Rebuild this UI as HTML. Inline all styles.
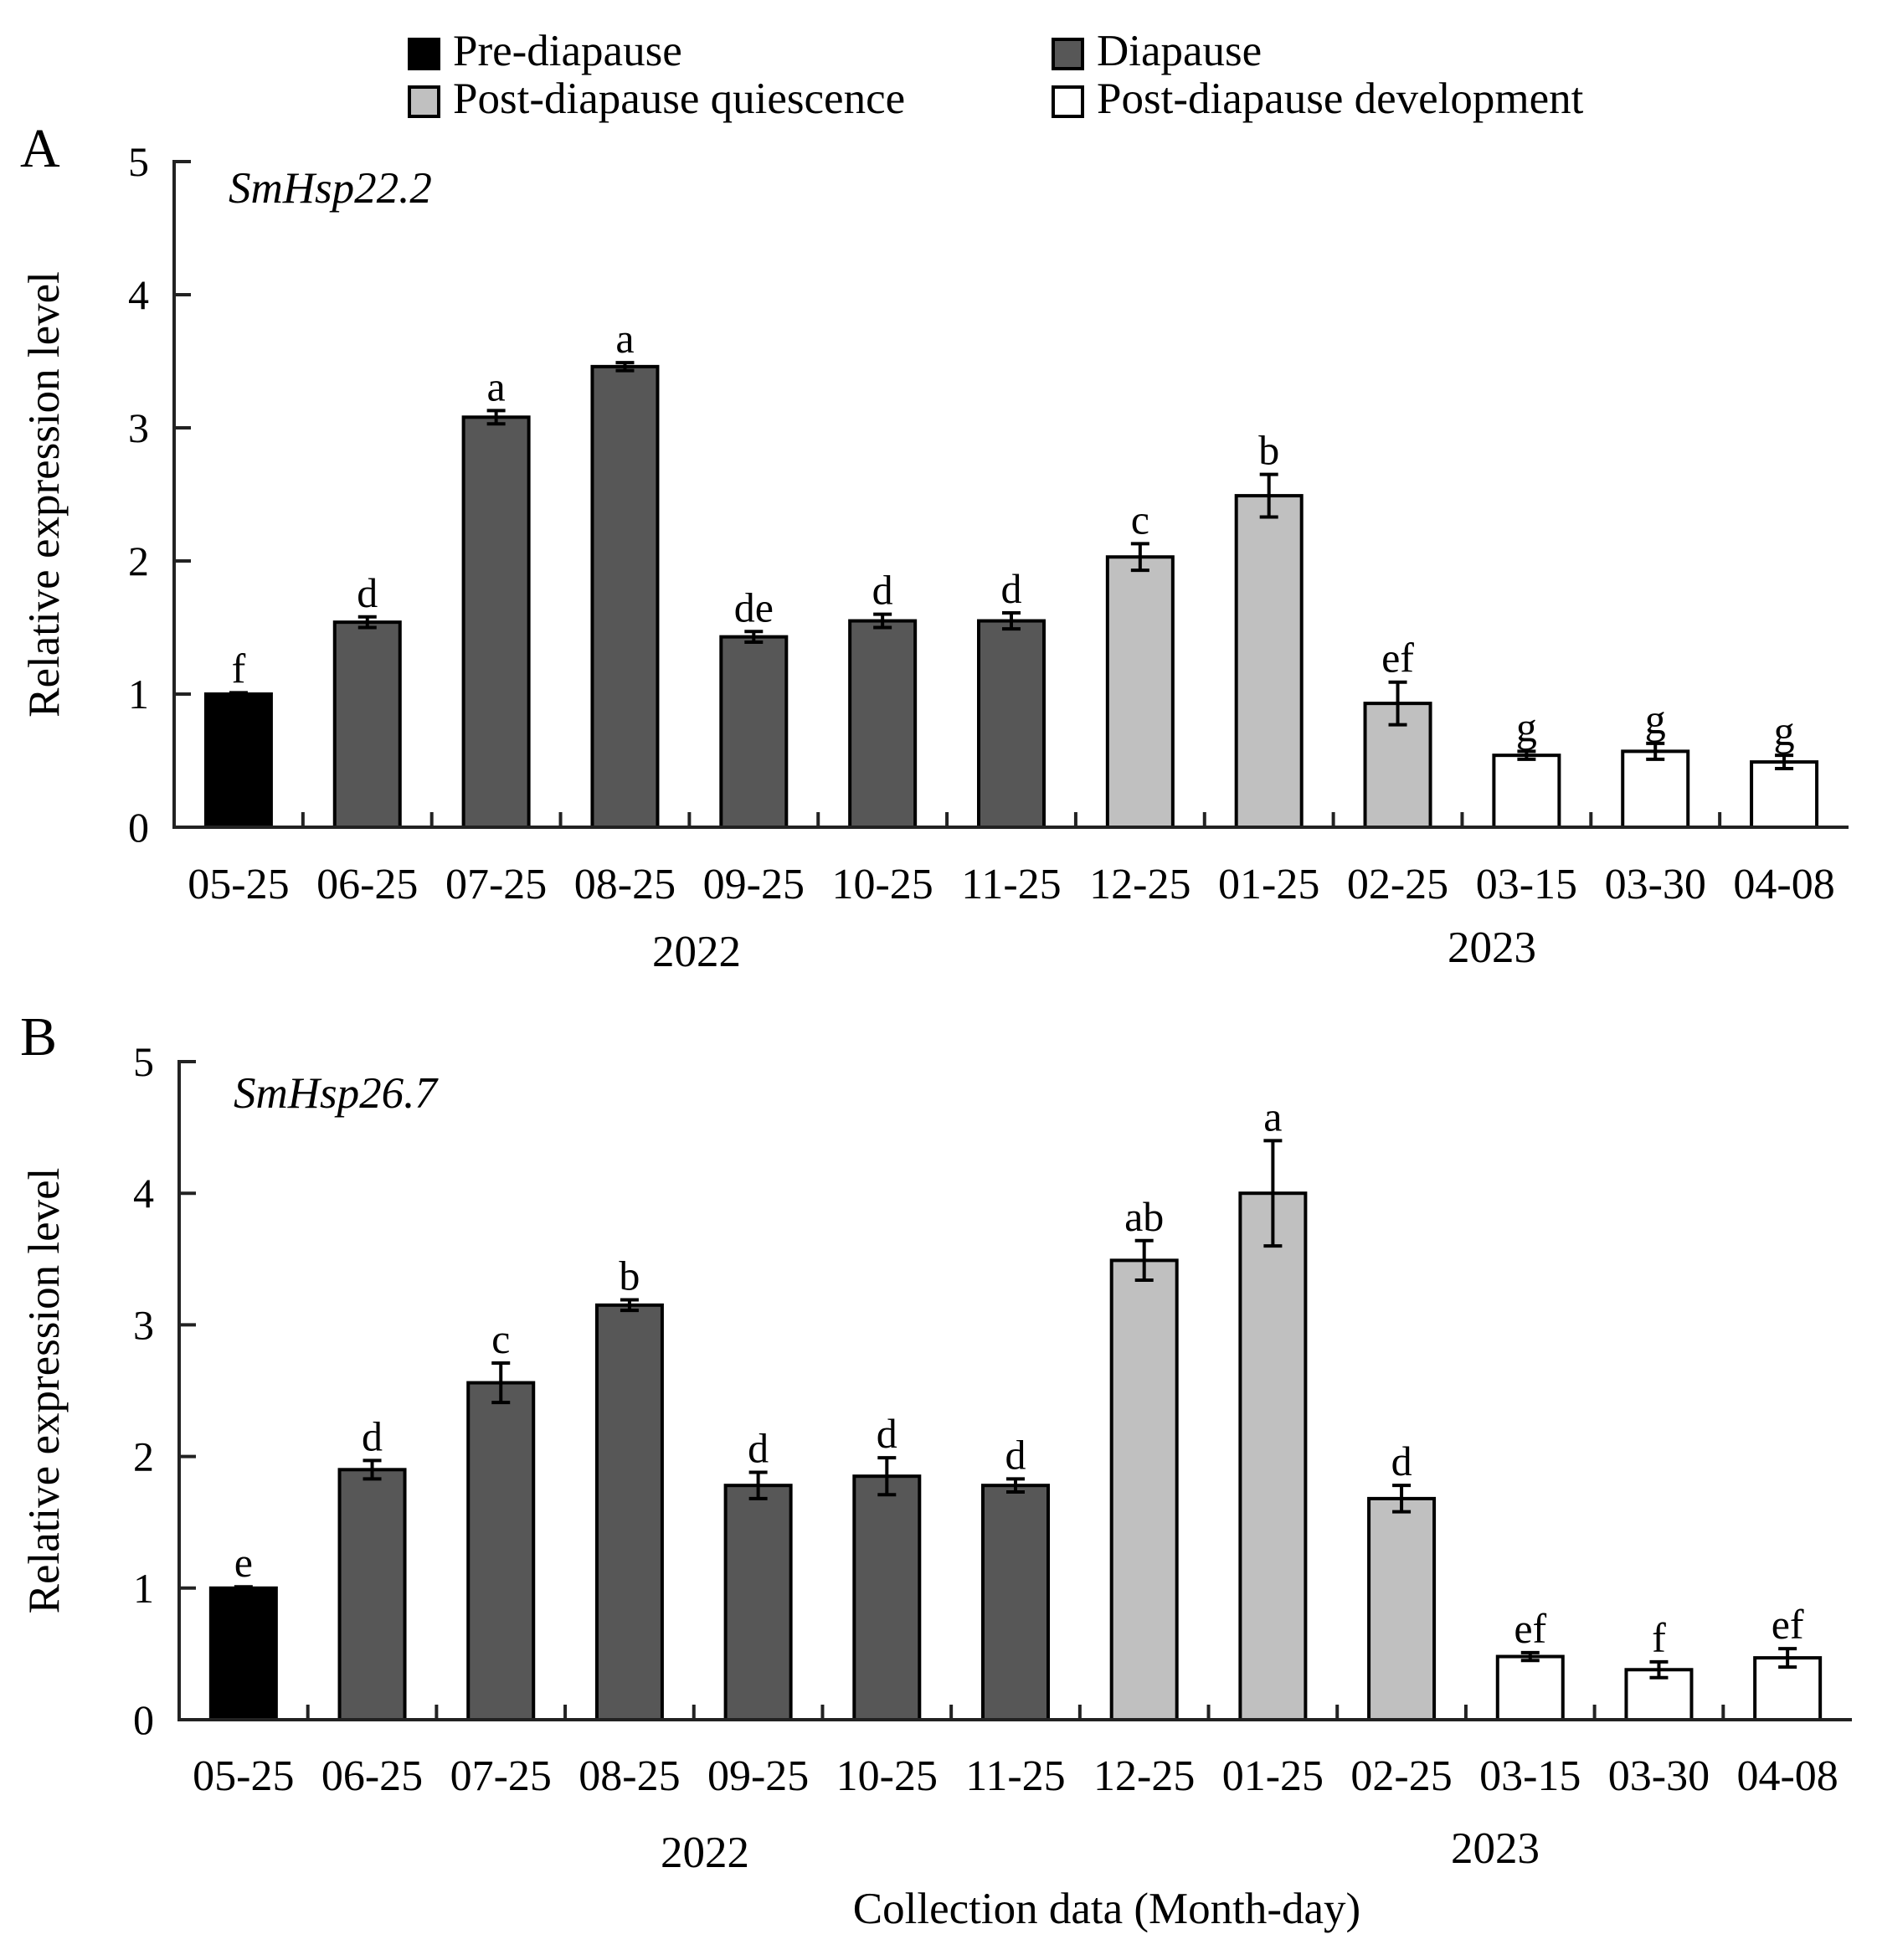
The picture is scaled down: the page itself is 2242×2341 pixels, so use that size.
<!DOCTYPE html>
<html><head><meta charset="utf-8"><style>
body{margin:0;background:#fff}
svg{display:block;font-family:"Liberation Serif",serif}
</style></head><body>
<svg id="c" width="2242" height="2341" viewBox="0 0 2242 2341"></svg>
<script>
const categories=["05-25","06-25","07-25","08-25","09-25","10-25","11-25","12-25","01-25","02-25","03-15","03-30","04-08"];
const stages=[0,1,1,1,1,1,1,2,2,2,3,3,3];
const valuesA=[1.0,1.54,3.08,3.46,1.43,1.55,1.55,2.03,2.49,0.93,0.54,0.57,0.49];
const errorsA=[0.01,0.04,0.05,0.03,0.04,0.05,0.06,0.1,0.16,0.16,0.03,0.06,0.05];
const lettersA=["f","d","a","a","de","d","d","c","b","ef","g","g","g"];
const valuesB=[1.0,1.9,2.56,3.15,1.78,1.85,1.78,3.49,4.0,1.68,0.48,0.38,0.47];
const errorsB=[0.01,0.07,0.15,0.04,0.1,0.14,0.05,0.15,0.4,0.1,0.03,0.06,0.07];
const lettersB=["e","d","c","b","d","d","d","ab","a","d","ef","f","ef"];
const yTicks=[0,1,2,3,4,5];
const legendLabels=["Pre-diapause","Diapause","Post-diapause quiescence","Post-diapause development"];
const fills=["#000","#575757","#c0c0c0","#fff"];
const svg=document.getElementById('c');
const NS="http://www.w3.org/2000/svg";
function mk(t,a,p,txt){const e=document.createElementNS(NS,t);for(const k in a)e.setAttribute(k,a[k]);if(txt!==undefined)e.textContent=txt;(p||svg).appendChild(e);return e;}
const lpos=[[487,45],[1256,45],[487,102],[1256,102]];
legendLabels.forEach((l,i)=>{
 const g=mk('g',{});
 
 
 mk('rect',{x:lpos[i][0]+2,y:lpos[i][1]+2,width:35,height:35,fill:fills[i],stroke:'#000','stroke-width':4},g);
 mk('text',{x:lpos[i][0]+54,y:lpos[i][1]+33,'font-size':53},g,l);
});
function panel(o){
 const g=mk('g',{});
 
 
 const x0=o.x0,x1=o.x1,yb=o.yb,yt=o.yt;
 const step=(x1-x0)/categories.length;
 const ys=v=>yb-(yb-yt)*v/5;
 const xc=i=>x0+step*(i+0.5);
 const bw=78;
 const pl=mk('text',{x:24,y:o.labelY,'font-size':66},g,o.id);
 
 yTicks.forEach(t=>{
  mk('line',{x1:x0,x2:x0+20,y1:ys(t),y2:ys(t),stroke:'#222','stroke-width':4},g);
  const tl=mk('text',{x:x0-30,y:ys(t)+17,'font-size':50,'text-anchor':'end'},g,String(t));
  
 });
 for(let i=1;i<categories.length;i++){mk('line',{x1:x0+step*i,x2:x0+step*i,y1:yb,y2:yb-18,stroke:'#222','stroke-width':4},g);}
 o.values.forEach((v,i)=>{
  const b=mk('rect',{x:xc(i)-bw/2,y:ys(v),width:bw,height:yb-ys(v),fill:fills[stages[i]],stroke:'#000','stroke-width':4},g);
  
  
  const e=o.errors[i],t=ys(v+e),bo=ys(v-e);
  mk('path',{d:`M${xc(i)} ${t}V${bo}M${xc(i)-11} ${t}H${xc(i)+11}M${xc(i)-11} ${bo}H${xc(i)+11}`,stroke:'#000','stroke-width':4,fill:'none'},g);
  const lt=mk('text',{x:xc(i),y:t-12,'font-size':50,'text-anchor':'middle'},g,o.letters[i]);
  
  const cl=mk('text',{x:xc(i),y:o.catY,'font-size':52,'text-anchor':'middle'},g,categories[i]);
  
 });
 mk('path',{d:`M${x0+20} ${yt}H${x0}V${yb}H${x1}`,stroke:'#222','stroke-width':4,fill:'none'},g);
 const gn=mk('text',{x:o.geneX,y:o.geneY,'font-size':53,'font-style':'italic'},g,o.gene);
 
 const yt2=mk('text',{x:0,y:0,'font-size':53,'text-anchor':'middle',transform:`translate(70 ${(yb+yt)/2}) rotate(-90)`},g,'Relative expression level');
 
 const y1=mk('text',{x:o.y22x,y:o.yearY,'font-size':53,'text-anchor':'middle'},g,'2022');
 
 const y2=mk('text',{x:o.y23x,y:o.yearY-5,'font-size':53,'text-anchor':'middle'},g,'2023');
 
}
panel({id:'A',x0:208,x1:2208,yt:193,yb:988,values:valuesA,errors:errorsA,letters:lettersA,gene:'SmHsp22.2',geneX:273,geneY:242,labelY:199,catY:1073,yearY:1154,y22x:832,y23x:1782});
panel({id:'B',x0:214,x1:2212,yt:1268,yb:2054,values:valuesB,errors:errorsB,letters:lettersB,gene:'SmHsp26.7',geneX:279,geneY:1323,labelY:1260,catY:2138,yearY:2230,y22x:842,y23x:1786});
const xt=mk('text',{x:1322,y:2297,'font-size':53,'text-anchor':'middle'},svg,'Collection data (Month-day)');


</script>
</body></html>
